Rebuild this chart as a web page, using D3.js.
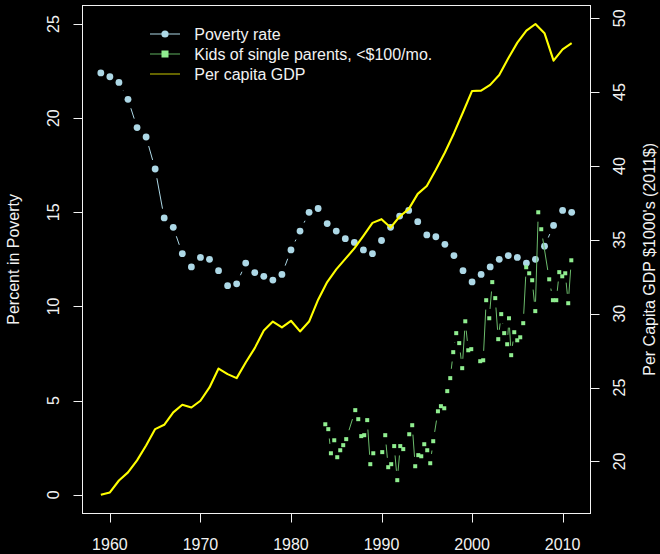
<!DOCTYPE html>
<html><head><meta charset="utf-8">
<script src="https://cdn.jsdelivr.net/npm/d3@7/dist/d3.min.js"></script>
<style>html,body{margin:0;padding:0;background:#000;}svg{display:block;}</style>
</head><body>
<svg id="chart" width="660" height="554"></svg>
<script>
// ---------- data ----------
const povertyYears = d3.range(1959, 2012);
const povertyRate = [22.4,22.2,21.9,21.0,19.5,19.0,17.3,14.7,14.2,12.8,
  12.1,12.6,12.5,11.9,11.1,11.2,12.3,11.8,11.6,11.4,
  11.7,13.0,14.0,15.0,15.2,14.4,14.0,13.6,13.4,13.0,
  12.8,13.5,14.2,14.8,15.1,14.5,13.8,13.7,13.3,12.7,
  11.9,11.3,11.7,12.1,12.5,12.7,12.6,12.3,12.5,13.2,
  14.3,15.1,15.0];

const gdpYears = d3.range(1959, 2012);
const gdpPerCapita = [17.75,17.90,18.71,19.26,20.07,21.08,22.19,22.48,23.32,23.84,
  23.65,24.11,25.01,26.29,25.91,25.64,26.70,27.67,28.86,29.47,
  29.07,29.52,28.80,29.47,30.95,32.14,33.00,33.71,34.42,35.27,
  36.15,36.40,35.83,36.58,37.08,38.11,38.65,39.74,40.91,42.22,
  43.64,45.08,45.10,45.49,46.16,47.29,48.35,49.16,49.61,48.99,
  47.13,47.90,48.31];

const kidsYears = [1983.79,1984.12,1984.41,1984.78,1985.11,1985.44,1985.77,1986.10,
  1987.10,1987.43,1987.76,1988.09,1988.42,1988.76,1989.09,
  1990.08,1990.41,1990.74,1991.07,1991.40,1991.74,1992.07,1992.40,
  1993.06,1993.39,1993.72,1994.06,1994.39,1994.72,1995.05,1995.38,1995.71,
  1996.23,1996.56,1996.93,1997.26,1997.59,1997.92,1998.25,1998.58,1998.91,
  1999.25,1999.58,1999.91,2000.90,2001.23,2001.56,2001.90,2002.23,2002.56,
  2002.89,2003.22,2003.55,2003.88,2004.08,2004.32,2004.66,2004.99,2005.32,
  2005.65,2005.98,2006.31,2006.64,2006.98,2007.31,2007.64,2008.52,2008.93,
  2009.30,2009.63,2009.96,2010.29,2010.62,2010.96];
const kidsPct = [3.74,3.48,2.20,2.89,1.99,2.36,2.63,2.95,
  4.49,4.01,3.11,3.16,3.96,1.62,2.20,
  2.26,3.16,1.46,1.62,2.58,0.77,2.58,2.42,
  3.21,3.69,1.51,2.10,2.04,2.68,2.36,1.67,2.84,
  4.43,4.70,4.59,5.50,6.19,7.57,8.58,8.05,6.72,
  9.21,7.67,7.73,7.09,7.14,10.33,9.37,11.29,10.44,
  8.26,9.59,8.58,7.99,9.37,7.41,8.63,8.20,8.36,
  9.11,12.08,11.76,11.39,9.75,15.00,14.10,11.44,10.33,
  10.33,11.82,11.60,11.76,10.17,12.45];

const xTicks = [1960,1970,1980,1990,2000,2010];
const leftTicks = [0,5,10,15,20,25];
const rightTicks = [20,25,30,35,40,45,50];
const leftLimits = [0,25];
const legendLabels = ["Poverty rate","Kids of single parents, <$100/mo.","Per capita GDP"];

// ---------- setup ----------
const svg = d3.select("#chart");
svg.append("rect").attr("width",660).attr("height",554).attr("fill","#000");
const box = {l:82, r:590.5, t:5.2, b:513.5};
const font = "Liberation Sans, Arial, Helvetica, sans-serif";
const fg = "#f2f2f2";

function pad(ext){ const d=(ext[1]-ext[0])*0.04; return [ext[0]-d, ext[1]+d]; }
const x = d3.scaleLinear().domain(pad(d3.extent(povertyYears))).range([box.l, box.r]);
const yL = d3.scaleLinear().domain(pad(leftLimits)).range([box.b, box.t]);
const yR = d3.scaleLinear().domain(d3.extent(gdpPerCapita)).range([yL(leftLimits[0]), yL(leftLimits[1])]);

// type "b" segments with gaps around points
function gapSegments(pts, gap){
  const segs=[];
  for(let i=1;i<pts.length;i++){
    const [x0,y0]=pts[i-1], [x1,y1]=pts[i];
    const dx=x1-x0, dy=y1-y0, len=Math.hypot(dx,dy);
    if(len>2*gap){ const f=gap/len;
      segs.push([x0+dx*f,y0+dy*f,x1-dx*f,y1-dy*f]); }
  }
  return segs;
}
const GAP = 9.4;

// ---------- poverty ----------
const povPts = povertyYears.map((yr,i)=>[x(yr), yL(povertyRate[i])]);
svg.append("g").selectAll("line").data(gapSegments(povPts,GAP)).join("line")
  .attr("x1",d=>d[0]).attr("y1",d=>d[1]).attr("x2",d=>d[2]).attr("y2",d=>d[3])
  .attr("stroke","#add8e6").attr("stroke-width",1);
svg.append("g").selectAll("circle").data(povPts).join("circle")
  .attr("cx",d=>d[0]).attr("cy",d=>d[1]).attr("r",3.4).attr("fill","#add8e6");

// ---------- kids ----------
const kidPts = kidsYears.map((yr,i)=>[x(yr), yL(kidsPct[i])]);
svg.append("g").selectAll("line").data(gapSegments(kidPts,GAP)).join("line")
  .attr("x1",d=>d[0]).attr("y1",d=>d[1]).attr("x2",d=>d[2]).attr("y2",d=>d[3])
  .attr("stroke","#6cbc6c").attr("stroke-width",1);
svg.append("g").selectAll("rect").data(kidPts).join("rect")
  .attr("x",d=>d[0]-2).attr("y",d=>d[1]-2).attr("width",4).attr("height",4).attr("fill","#90ee90");

// ---------- GDP ----------
svg.append("path").datum(gdpYears.map((yr,i)=>[x(yr), yR(gdpPerCapita[i])]))
  .attr("d", d3.line()).attr("fill","none").attr("stroke","#ffff00")
  .attr("stroke-width",2.1).attr("stroke-linejoin","round");

// ---------- box & axes ----------
svg.append("rect").attr("x",box.l+0.5).attr("y",box.t+0.3).attr("width",box.r-box.l-0.5)
  .attr("height",box.b-box.t-0.3).attr("fill","none").attr("stroke",fg).attr("stroke-width",1);

const TL = 9;
const gx = svg.append("g");
xTicks.forEach(t=>{
  const px = Math.round(x(t))+0.5;
  gx.append("line").attr("x1",px).attr("x2",px).attr("y1",box.b).attr("y2",box.b+TL).attr("stroke",fg);
  gx.append("text").attr("x",x(t)).attr("y",550).attr("text-anchor","middle")
    .attr("font-family",font).attr("font-size",16).attr("fill",fg).text(t);
});
const gl = svg.append("g");
leftTicks.forEach(t=>{
  const py = Math.round(yL(t))+0.5;
  gl.append("line").attr("x1",box.l+0.5).attr("x2",box.l+0.5-TL).attr("y1",py).attr("y2",py).attr("stroke",fg);
  gl.append("text").attr("transform",`translate(59,${yL(t)}) rotate(-90)`).attr("text-anchor","middle")
    .attr("font-family",font).attr("font-size",16).attr("fill",fg).text(t);
});
const gr = svg.append("g");
rightTicks.forEach(t=>{
  const py = Math.round(yR(t))+0.5;
  gr.append("line").attr("x1",box.r).attr("x2",box.r+TL).attr("y1",py).attr("y2",py).attr("stroke",fg);
  gr.append("text").attr("transform",`translate(625,${yR(t)}) rotate(-90)`).attr("text-anchor","middle")
    .attr("font-family",font).attr("font-size",16).attr("fill",fg).text(t);
});
const midY = (box.t+box.b)/2;
svg.append("text").attr("transform",`translate(19,${midY}) rotate(-90)`).attr("text-anchor","middle")
  .attr("font-family",font).attr("font-size",16).attr("fill",fg).text("Percent in Poverty");
svg.append("text").attr("transform",`translate(655,${midY}) rotate(-90)`).attr("text-anchor","middle")
  .attr("font-family",font).attr("font-size",16).attr("fill",fg).text("Per Capita GDP $1000's (2011$)");

// ---------- legend ----------
const lg = svg.append("g");
const rowsY = [34,54,74];
const lineCols = ["#add8e6","#5fb05f","#c8c800"];
legendLabels.forEach((lab,i)=>{
  const cy = rowsY[i];
  lg.append("line").attr("x1",150).attr("x2",180).attr("y1",cy).attr("y2",cy)
    .attr("stroke",lineCols[i]).attr("stroke-width",1);
  if(i===0) lg.append("circle").attr("cx",165).attr("cy",cy).attr("r",3.6).attr("fill","#add8e6");
  if(i===1) lg.append("rect").attr("x",161.5).attr("y",cy-3.5).attr("width",7).attr("height",7).attr("fill","#90ee90");
  lg.append("text").attr("x",194.3).attr("y",cy+5.7).attr("font-family",font).attr("font-size",16)
    .attr("fill",fg).text(lab);
});
</script>
</body></html>
